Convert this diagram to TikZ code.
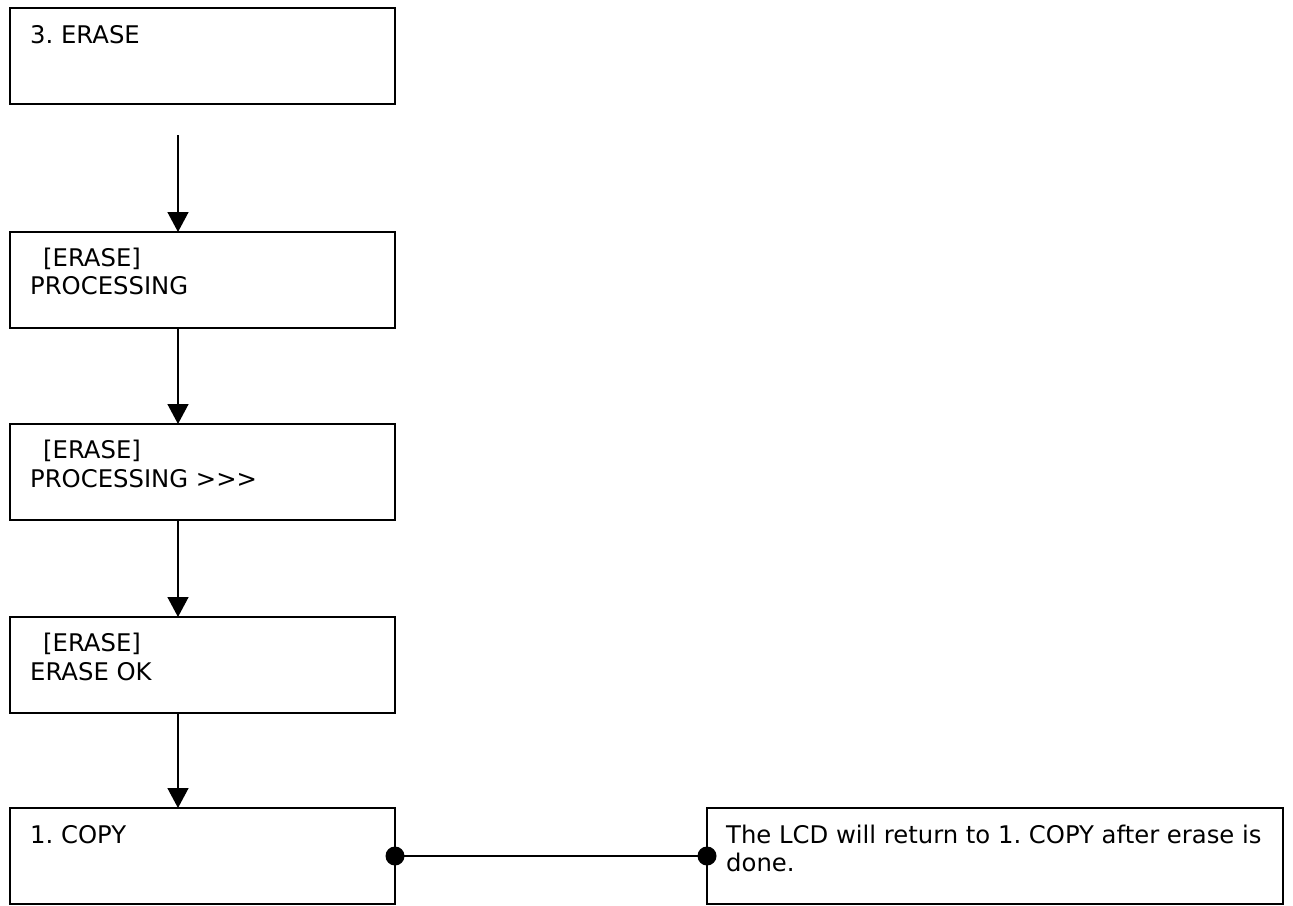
\documentclass[tikz,border=0pt]{standalone}
\usepackage{fontspec}
\setmainfont[Ligatures=NoCommon]{DejaVu Sans}
\usetikzlibrary{arrows.meta}
\frenchspacing
\begin{document}
\begin{tikzpicture}[x=1pt,y=-1pt,
  box/.style={draw, line width=1.9pt, minimum width=385pt, minimum height=96pt,
    inner sep=0pt, outer sep=0pt, anchor=north west},
  txt/.style={anchor=base west, inner sep=0pt, font=\fontsize{24.3}{28}\selectfont},
  flow/.style={line width=1.5pt, -{Triangle[width=21pt,length=20pt]}},
  link/.style={line width=1.5pt},
  dot/.style={fill=black}]
\useasboundingbox (0,0) rectangle (1293,905);

% boxes
\node[box] (b1) at (10,8) {};
\node[box] (b2) at (10,232) {};
\node[box] (b3) at (10,424) {};
\node[box] (b4) at (10,617) {};
\node[box] (b5) at (10,808) {};
\node[box, minimum width=576pt] (note) at (707,808) {};

% texts
\node[txt] (t1) at (30,43) {3. ERASE};
\node[txt] (t2a) at (43,266) {[ERASE]};
\node[txt] (t2b) at (30,294) {PROCESSING};
\node[txt] (t3a) at (43,458) {[ERASE]};
\node[txt] (t3b) at (30,487) {PROCESSING {>}{>}{>}};
\node[txt] (t4a) at (43,651) {[ERASE]};
\node[txt] (t4b) at (30,680) {ERASE OK};
\node[txt] (t5) at (30,843) {1. COPY};
\node[txt] (n1) at (726,843) {The LCD will return to 1. COPY after erase is};
\node[txt] (n2) at (726,871) {done.};

% arrows
\coordinate (ax) at (178,0);
\coordinate (a0) at (178,135);
\draw[flow] (a0) -- (ax |- b2.north);
\draw[flow] (ax |- b2.south) -- (ax |- b3.north);
\draw[flow] (ax |- b3.south) -- (ax |- b4.north);
\draw[flow] (ax |- b4.south) -- (ax |- b5.north);

% link
\draw[link] (b5.east) -- (note.west);
\fill[dot] (b5.east) circle (9.5pt);
\fill[dot] (note.west) circle (9.5pt);
\end{tikzpicture}
\end{document}
